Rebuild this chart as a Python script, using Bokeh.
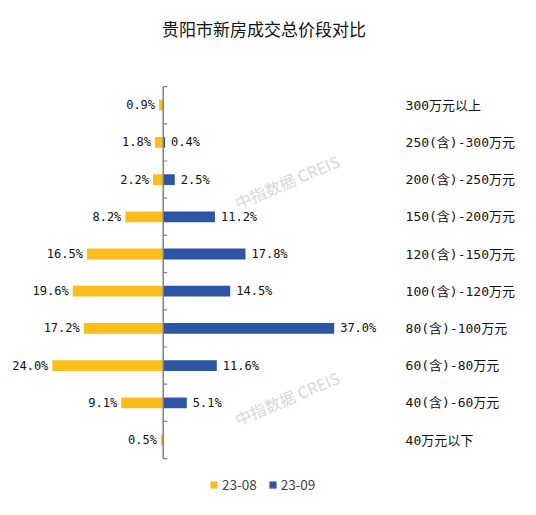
from bokeh.plotting import figure
from bokeh.models import Range1d, Legend, LegendItem, ColumnDataSource, Label
from bokeh.core.properties import value
from bokeh.embed import file_html
from bokeh.resources import INLINE

title_text = "贵阳市新房成交总价段对比"
# bottom -> top
categories = ["40万元以下", "40(含)-60万元", "60(含)-80万元", "80(含)-100万元",
              "100(含)-120万元", "120(含)-150万元", "150(含)-200万元",
              "200(含)-250万元", "250(含)-300万元", "300万元以上"]
series_names = ["23-08", "23-09"]
aug = [0.5, 9.1, 24.0, 17.2, 19.6, 16.5, 8.2, 2.2, 1.8, 0.9]
sep = [None, 5.1, 11.6, 37.0, 14.5, 17.8, 11.2, 2.5, 0.4, None]
watermark = "中指数据 CREIS"

FONT = "Noto Sans CJK SC"
MONO = "DejaVu Sans Mono, Noto Sans CJK SC"
YELLOW = "#FBBD1C"
BLUE = "#2E55A5"
AXIS_GREY = "#808080"
W, H = 520, 499
n = len(categories)
idx = list(range(n))

p = figure(width=W, height=H, x_range=Range1d(-35.22, 77.33),
           y_range=Range1d(-1.599, 11.815), output_backend="svg",
           toolbar_location=None, min_border=0)
p.outline_line_color = None
p.grid.visible = False
p.xaxis.visible = False
p.yaxis.visible = False

# watermark
wm = ColumnDataSource(dict(x=[26.8, 26.8], y=[6.95, 1.13], t=[watermark, watermark]))
p.text(x="x", y="y", text="t", source=wm, angle=0.40, text_align="center",
       text_baseline="middle", text_font=value(FONT), text_font_size="16px",
       text_color="#c8c8c8", text_alpha=0.75)

src08 = ColumnDataSource(dict(y=idx, left=[-v for v in aug], right=[0] * n,
                              label=[f"{v:.1f}%" for v in aug]))
ys = [i for i, v in zip(idx, sep) if v is not None]
vs = [v for v in sep if v is not None]
src09 = ColumnDataSource(dict(y=ys, left=[0] * len(ys), right=vs,
                              label=[f"{v:.1f}%" for v in vs]))

r08 = p.hbar(y="y", left="left", right="right", height=0.29, fill_color=YELLOW,
             line_color=None, source=src08)
r09 = p.hbar(y="y", left="left", right="right", height=0.29, fill_color=BLUE,
             line_color=None, source=src09)

# category axis line at zero with small ticks between categories
bounds = [i - 0.5 for i in range(n + 1)]
p.segment(x0=[0], y0=[bounds[0]], x1=[0], y1=[bounds[-1]], line_color=AXIS_GREY, line_width=1.5)
tick_len = 0.85
p.segment(x0=[0] * len(bounds), y0=bounds, x1=[tick_len] * len(bounds), y1=bounds,
          line_color=AXIS_GREY, line_width=1.2)

p.text(x="left", y="y", text="label", source=src08, x_offset=-4, text_align="right",
       text_baseline="middle", text_font=value(MONO), text_font_size="12px", text_color="#111111")
p.text(x="right", y="y", text="label", source=src09, x_offset=6, text_align="left",
       text_baseline="middle", text_font=value(MONO), text_font_size="12px", text_color="#111111")

label_x = 52.45
cat_src = ColumnDataSource(dict(x=[label_x] * n, y=idx, t=categories))
p.text(x="x", y="y", text="t", source=cat_src, text_align="left", text_baseline="middle",
       text_font=value(MONO), text_font_size="13px", text_color="#111111")

p.add_layout(Label(x=263.5, y=H - 28, x_units="screen", y_units="screen", text=title_text,
                   text_align="center", text_baseline="middle", text_font=FONT,
                   text_font_size="17px", text_color="#111111"))

legend = Legend(items=[LegendItem(label=series_names[0], renderers=[r08]),
                       LegendItem(label=series_names[1], renderers=[r09])],
                orientation="horizontal", location=(209, 5), glyph_width=9, glyph_height=9,
                label_height=9, label_width=10,
                label_text_font=FONT, label_text_font_size="13.5px", spacing=11,
                label_standoff=4, border_line_color=None, background_fill_alpha=0,
                padding=0, margin=0)
p.add_layout(legend, "center")

open("out.html", "w").write(file_html(p, INLINE))
